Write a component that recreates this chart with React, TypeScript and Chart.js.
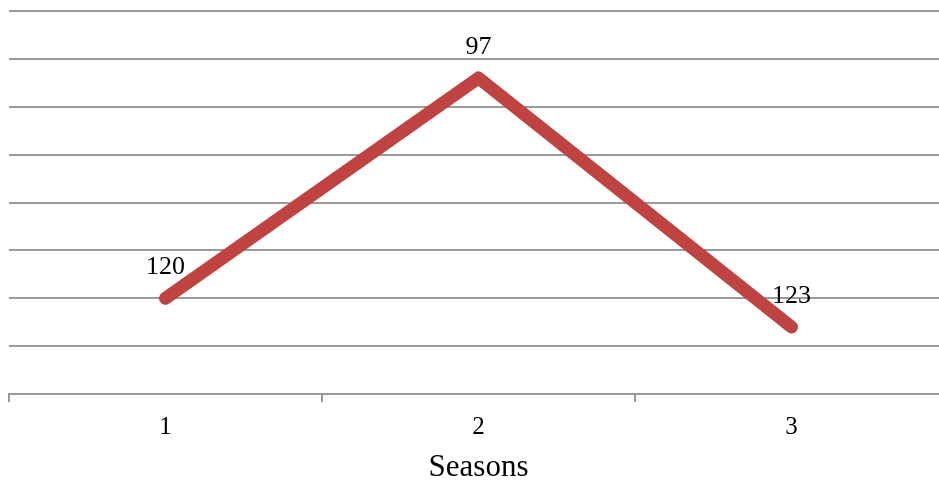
import React, { useEffect, useRef } from "react";
import { Chart, registerables } from "chart.js";

Chart.register(...registerables);

const categories: string[] = ["1", "2", "3"];
const seasonValues: number[] = [120, 97, 123];
const axisTitle = "Seasons";
const yMin = 90;
const yMax = 130;
const yStep = 5;

const FONT = "'Liberation Serif', 'Times New Roman', serif";
const GRID = "#9a9a9a";
const LINE = "#BF4341";

const labelPlugin = {
  id: "pointLabels",
  afterDatasetsDraw(chart: any) {
    const ctx = chart.ctx;
    const meta = chart.getDatasetMeta(0);
    ctx.save();
    ctx.font = `26px ${FONT}`;
    ctx.fillStyle = "#000";
    ctx.textAlign = "center";
    ctx.textBaseline = "middle";
    meta.data.forEach((pt: any, i: number) => {
      ctx.fillText(String(seasonValues[i]), pt.x, pt.y - 31);
    });
    ctx.restore();
  },
};

export default function App() {
  const ref = useRef<HTMLCanvasElement | null>(null);
  useEffect(() => {
    if (!ref.current) return;
    const chart = new Chart(ref.current, {
      type: "line",
      data: {
        labels: categories,
        datasets: [
          {
            data: seasonValues,
            borderColor: LINE,
            backgroundColor: LINE,
            borderWidth: 13,
            borderCapStyle: "round",
            borderJoinStyle: "round",
            pointRadius: 0,
            tension: 0,
          },
        ],
      },
      options: {
        animation: false,
        responsive: false,
        devicePixelRatio: 1,
        layout: { padding: { left: 9, top: 11, right: 0, bottom: 0 } },
        plugins: { legend: { display: false }, tooltip: { enabled: false } },
        scales: {
          x: {
            offset: true,
            grid: {
              display: true,
              drawOnChartArea: false,
              drawTicks: true,
              tickLength: 8,
              offset: true,
              color: GRID,
              lineWidth: 2,
            },
            border: { display: true, color: GRID, width: 2 },
            ticks: { color: "#000", font: { family: FONT, size: 25, lineHeight: 1.2 }, padding: 10 },
            title: {
              display: true,
              text: axisTitle,
              color: "#000",
              font: { family: FONT, size: 31, lineHeight: 1 },
              padding: { top: 0, bottom: 0 },
            },
          },
          y: {
            reverse: true,
            min: yMin,
            max: yMax,
            ticks: { display: false, stepSize: yStep },
            grid: { color: GRID, lineWidth: 2, drawTicks: false },
            border: { display: false },
          },
        },
      },
      plugins: [labelPlugin],
    });
    return () => chart.destroy();
  }, []);
  return (
    <div
      style={{
        position: "fixed",
        left: 0,
        top: 0,
        width: 939,
        height: 483,
        overflow: "hidden",
        background: "#fff",
      }}
    >
      <canvas ref={ref} width={948} height={483} style={{ width: 948, height: 483, display: "block" }} />
    </div>
  );
}
